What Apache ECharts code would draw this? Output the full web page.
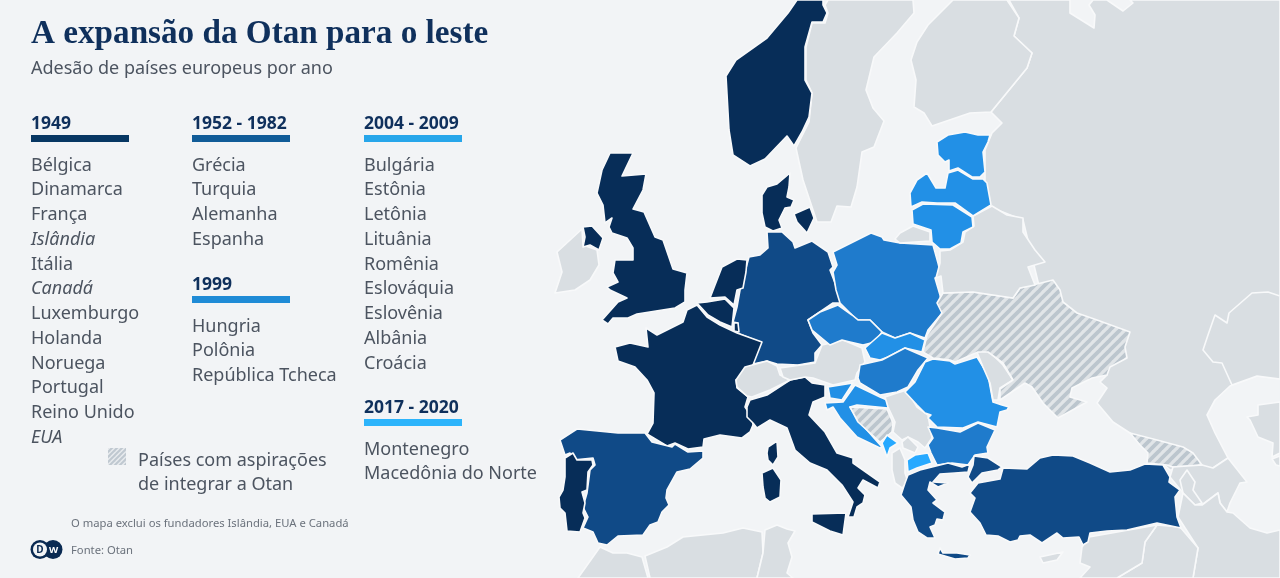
<!DOCTYPE html>
<html lang="pt">
<head>
<meta charset="UTF-8">
<title>A expansão da Otan para o leste</title>
<script src="https://cdn.jsdelivr.net/npm/echarts@6/dist/echarts.min.js"></script>
<style>
  html, body { margin: 0; padding: 0; background: #f2f4f6; }
  #main { width: 1280px; height: 578px; }
</style>
</head>
<body>
<div id="main"></div>
<script>
// listas da legenda
var list1949 = ['Bélgica', 'Dinamarca', 'França', 'Islândia', 'Itália', 'Canadá', 'Luxemburgo', 'Holanda', 'Noruega', 'Portugal', 'Reino Unido', 'EUA'];
var list1952 = ['Grécia', 'Turquia', 'Alemanha', 'Espanha'];
var list1999 = ['Hungria', 'Polônia', 'República Tcheca'];
var list2004 = ['Bulgária', 'Estônia', 'Letônia', 'Lituânia', 'Romênia', 'Eslováquia', 'Eslovênia', 'Albânia', 'Croácia'];
var list2017 = ['Montenegro', 'Macedônia do Norte'];
var italicNames = ['Islândia', 'Canadá', 'EUA'];  // fundadores fora do mapa
var aspirantes = ['Ucrânia', 'Geórgia', 'Bósnia'];

var colors = { c1949: '#072d58', c1952: '#104a87', c1999: '#1f7bcc', c2004: '#2290e6', c2017: '#27a9ff', outros: '#d9dee2' };
var barColors = { c1949: '#073763', c1952: '#115c98', c1999: '#1f8bd6', c2004: '#27a6ea', c2017: '#2db4fb' };
// no mapa original a Bulgária e a Albânia nao seguem a cor da lista
var mapOverrides = { 'Bulgária': colors.c1999, 'Albânia': colors.outros };

// contornos do mapa, em pixels da imagem
var outlines = {
  'Rússia': [[[1009,0],[1070,0],[1070,13],[1094,28],[1095,15],[1089,5],[1093,0],[1107,0],[1123,11],[1133,3],[1130,0],[1280,0],[1280,379],[1257,376],[1230,386],[1215,400],[1207,415],[1215,433],[1228,458],[1213,468],[1170,470],[1130,433],[1113,422],[1097,403],[1107,388],[1100,382],[1107,375],[1100,330],[1040,290],[1023,220],[985,205],[985,150],[992,133],[1002,123],[991,112],[1027,68],[1032,53],[1014,36],[1019,18]]],
  'Cazaquistão': [[[1252,293],[1268,292],[1280,296],[1280,379],[1257,376],[1232,385],[1222,363],[1213,362],[1203,350],[1208,335],[1215,315],[1227,323],[1229,313]]],
  'Turcomenistão': [
    [[1247,417],[1258,415],[1258,405],[1280,402],[1280,453],[1272,457],[1273,443],[1258,437],[1250,420]],
    [[1272,459],[1280,456],[1280,466],[1276,465]]
  ],
  'Suécia': [[[828,0],[913,0],[914,13],[897,33],[874,57],[866,90],[873,108],[884,121],[874,147],[862,152],[857,187],[851,207],[837,206],[831,222],[817,222],[803,180],[796,148],[809,122],[812,93],[806,80],[806,47],[812,23],[825,23],[828,13],[825,5]]],
  'Finlândia': [[[953,0],[1007,0],[1019,18],[1014,36],[1032,53],[1027,68],[991,112],[970,113],[932,126],[924,113],[914,107],[916,80],[911,60],[917,42],[928,25]]],
  'Noruega': [[[797,0],[823,0],[823,5],[827,13],[823,22],[812,22],[805,47],[805,80],[812,93],[809,117],[802,132],[794,146],[787,136],[765,159],[750,166],[733,155],[729,130],[726,76],[736,60],[767,38],[788,13]]],
  'Irlanda': [[[582,229],[583,245],[597,250],[599,265],[590,280],[575,290],[555,293],[562,272],[557,252]]],
  'Reino Unido': [
    [[610,153],[633,153],[622,176],[646,174],[643,190],[633,209],[644,212],[655,237],[663,240],[673,269],[687,273],[685,290],[685,302],[675,308],[637,314],[628,318],[613,318],[608,324],[602,320],[618,302],[627,298],[610,290],[607,287],[618,282],[613,273],[615,260],[633,260],[633,248],[627,238],[612,233],[609,227],[612,218],[605,223],[603,205],[597,193],[602,170]],
    [[583,227],[592,226],[603,238],[599,250],[590,245],[583,247],[585,237]]
  ],
  'Dinamarca': [
    [[767,187],[777,184],[790,173],[789,187],[787,197],[794,200],[791,207],[785,208],[779,220],[782,228],[773,231],[765,227],[762,213],[762,195]],
    [[794,214],[810,207],[814,218],[807,233],[797,222]]
  ],
  'Alemanha': [[[767,232],[782,232],[793,242],[795,248],[812,241],[828,252],[833,267],[830,270],[835,283],[837,290],[842,303],[833,303],[808,320],[813,333],[822,345],[815,353],[815,362],[798,365],[777,364],[767,361],[753,364],[760,342],[742,335],[737,333],[738,323],[733,322],[737,307],[740,290],[749,257],[760,255],[768,248]]],
  'Holanda': [[[722,267],[737,259],[747,260],[746,272],[743,288],[737,290],[734,305],[725,297],[710,298],[715,285]]],
  'Bélgica': [[[697,303],[707,302],[725,299],[734,308],[732,327],[720,322],[708,315]]],
  'Luxemburgo': [[[734,323],[738,323],[739,332],[734,331]]],
  'França': [[[687,310],[697,305],[707,317],[720,325],[737,333],[762,342],[753,365],[745,377],[736,380],[737,388],[748,397],[745,407],[752,417],[753,425],[750,432],[742,438],[720,435],[704,439],[703,447],[688,449],[675,443],[667,446],[647,434],[653,423],[654,393],[647,380],[635,367],[618,361],[615,347],[630,343],[648,347],[646,328],[657,335],[683,322]]],
  'Espanha': [[[560,440],[577,429],[618,433],[645,433],[652,442],[672,447],[675,444],[688,452],[703,451],[703,458],[690,469],[677,472],[667,490],[666,498],[669,505],[662,512],[658,522],[650,525],[643,535],[618,536],[607,545],[598,543],[593,532],[583,528],[588,517],[583,507],[587,493],[590,470],[595,465],[593,458],[573,460],[570,453],[565,455]]],
  'Portugal': [[[565,458],[573,453],[577,460],[592,460],[593,465],[588,472],[587,490],[582,492],[585,503],[583,513],[585,518],[580,532],[567,531],[565,513],[560,508],[559,497],[563,490],[565,477]]],
  'Itália': [
    [[750,400],[767,395],[790,380],[805,377],[812,383],[825,385],[825,397],[813,402],[809,415],[825,432],[837,453],[853,458],[853,463],[880,482],[878,488],[863,480],[858,488],[865,495],[863,503],[857,507],[854,517],[848,517],[853,502],[842,485],[827,470],[810,463],[795,450],[787,428],[770,420],[757,428],[753,423],[747,417],[747,407]],
    [[762,473],[773,468],[781,480],[780,497],[770,502],[765,498],[763,487]],
    [[768,447],[777,441],[778,457],[773,465],[768,460],[767,453]],
    [[812,514],[846,513],[843,535],[830,531],[812,522]]
  ],
  'Suíça': [[[736,380],[745,367],[767,361],[777,366],[780,375],[790,380],[770,390],[752,397],[747,396],[737,387]]],
  'Áustria': [[[780,368],[815,363],[822,345],[843,340],[862,348],[865,362],[857,373],[855,380],[833,385],[813,378],[805,377],[790,380],[783,377]]],
  'Polônia': [[[833,252],[871,233],[882,237],[884,240],[900,243],[933,245],[938,263],[941,275],[935,278],[940,295],[943,312],[928,330],[925,338],[910,333],[895,338],[882,332],[870,320],[858,320],[852,315],[840,303],[836,290],[833,272],[837,265]]],
  'Kaliningrado': [[[895,239],[900,233],[913,226],[930,232],[930,241],[900,243]]],
  'República Tcheca': [[[808,320],[820,312],[838,305],[852,315],[858,320],[870,320],[882,332],[875,342],[863,345],[850,342],[842,340],[830,345],[818,335],[812,330]]],
  'Eslováquia': [[[865,348],[882,333],[895,338],[910,333],[925,340],[922,352],[905,348],[888,357],[880,360],[870,358]]],
  'Hungria': [[[858,378],[860,365],[882,360],[905,348],[928,358],[918,370],[908,387],[897,392],[880,395],[860,383]]],
  'Eslovênia': [[[828,387],[853,383],[842,400],[830,398]]],
  'Croácia': [[[855,385],[880,397],[887,400],[888,408],[857,405],[850,407],[858,420],[882,447],[880,448],[857,437],[840,418],[833,407],[827,410],[825,403],[843,402]]],
  'Bósnia': [[[850,407],[887,409],[893,423],[892,432],[880,442],[858,422]]],
  'Sérvia': [[[885,397],[897,393],[907,390],[917,407],[928,415],[932,438],[925,448],[918,442],[908,437],[902,440],[893,432],[895,422],[888,407]]],
  'Kosovo': [[[902,442],[908,437],[918,447],[915,453],[903,448]]],
  'Montenegro': [[[882,443],[887,435],[898,443],[890,448],[887,457]]],
  'Albânia': [[[892,453],[900,448],[905,460],[905,473],[908,482],[902,488],[895,483],[892,470]]],
  'Macedônia do Norte': [[[907,460],[915,455],[928,453],[932,463],[917,468],[908,472]]],
  'Bulgária': [[[928,427],[937,428],[960,432],[978,423],[995,430],[987,447],[988,453],[975,455],[968,465],[952,463],[937,465],[931,453],[928,445],[933,438]]],
  'Romênia': [[[905,392],[915,382],[925,362],[933,359],[950,361],[955,364],[977,357],[988,375],[993,402],[1002,405],[1009,407],[1007,410],[1000,412],[997,427],[978,422],[963,428],[937,427],[928,418],[931,415],[925,413],[917,405]]],
  'Moldávia': [[[977,352],[988,350],[1003,365],[1013,380],[1000,388],[998,400],[993,400],[990,383],[983,367]]],
  'Ucrânia': [[[943,293],[973,292],[1013,298],[1020,288],[1033,285],[1053,280],[1060,290],[1063,302],[1077,313],[1097,320],[1130,332],[1125,347],[1127,358],[1110,367],[1107,375],[1092,378],[1072,388],[1070,397],[1087,402],[1058,418],[1043,403],[1032,387],[1025,383],[1000,400],[1000,389],[1013,380],[1003,363],[988,352],[978,352],[955,362],[950,360],[933,358],[923,352],[927,335],[942,313],[937,303]]],
  'Belarus': [[[940,251],[950,250],[963,242],[965,232],[974,226],[973,216],[992,206],[1007,215],[1023,218],[1023,232],[1035,250],[1045,262],[1028,267],[1035,285],[1020,288],[1013,298],[973,292],[943,293],[941,276],[936,278],[940,263]]],
  'Estônia': [[[937,142],[948,135],[965,132],[978,135],[990,135],[988,142],[983,152],[985,172],[980,177],[972,177],[958,168],[949,171],[949,160],[945,162],[938,155]]],
  'Letônia': [[[911,207],[910,193],[917,180],[927,173],[936,188],[945,188],[948,173],[958,170],[973,179],[983,179],[987,183],[991,205],[973,216],[955,203],[937,203],[922,202]]],
  'Lituânia': [[[912,210],[923,204],[953,205],[972,217],[973,227],[963,232],[961,243],[950,249],[940,249],[932,242],[931,230],[913,224]]],
  'Geórgia': [[[1130,433],[1157,440],[1183,447],[1193,453],[1202,465],[1173,467],[1167,465],[1147,463],[1148,453],[1140,445]]],
  'Azerbaijão': [[[1173,467],[1202,465],[1213,468],[1228,458],[1247,482],[1240,483],[1230,503],[1227,512],[1220,503],[1218,493],[1202,505],[1195,505],[1183,493],[1170,477]]],
  'Armênia': [[[1187,470],[1195,482],[1193,490],[1202,503],[1195,505],[1183,493],[1180,480]]],
  'Irã': [[[1178,517],[1183,493],[1195,505],[1202,505],[1218,493],[1220,503],[1227,512],[1233,513],[1250,528],[1267,533],[1280,530],[1280,578],[1193,578],[1198,548]]],
  'Iraque': [[[1157,525],[1180,527],[1198,548],[1193,578],[1117,578],[1142,563],[1145,542]]],
  'Síria': [[[1082,547],[1089,537],[1157,525],[1145,542],[1142,563],[1117,578],[1080,578],[1090,567],[1080,563]]],
  'Chipre': [[[1040,557],[1063,552],[1057,560],[1043,563]]],
  'Turquia': [
    [[1003,468],[1027,469],[1040,458],[1053,455],[1073,456],[1090,463],[1110,472],[1130,470],[1145,464],[1163,465],[1170,477],[1169,482],[1180,490],[1175,497],[1177,517],[1181,528],[1157,523],[1127,530],[1107,531],[1090,533],[1088,542],[1083,545],[1079,537],[1063,538],[1057,533],[1042,543],[1030,535],[1020,536],[1018,540],[1010,542],[998,536],[986,535],[980,523],[970,512],[975,498],[970,493],[978,483],[1000,479]],
    [[974,456],[988,458],[1002,467],[998,470],[982,473],[972,483],[968,477],[973,465]]
  ],
  'Grécia': [
    [[908,475],[920,470],[932,467],[948,463],[962,467],[970,464],[968,472],[955,473],[940,474],[933,482],[948,483],[938,487],[930,482],[928,490],[937,500],[933,503],[945,512],[943,520],[937,519],[935,525],[930,527],[935,538],[927,538],[918,532],[913,520],[911,507],[901,495],[905,483]],
    [[940,548],[943,553],[957,553],[970,555],[968,558],[955,559],[938,554]]
  ],
  'Marrocos': [[[578,578],[600,547],[613,553],[627,553],[642,557],[648,578]]],
  'Argélia': [[[645,556],[667,547],[683,537],[723,533],[743,528],[762,532],[763,553],[757,578],[650,578]]],
  'Tunísia': [[[765,530],[777,525],[787,529],[795,531],[788,543],[792,557],[787,573],[793,578],[757,578],[763,553]]]
};

function hatch(size, width, stripe, back) {
  var c = document.createElement('canvas');
  c.width = size; c.height = size;
  var g = c.getContext('2d');
  g.fillStyle = back; g.fillRect(0, 0, size, size);
  g.strokeStyle = stripe; g.lineWidth = width;
  [-size, 0, size].forEach(function (d) {
    g.beginPath(); g.moveTo(d - 1, size + 1); g.lineTo(d + size + 1, -1); g.stroke();
  });
  return c;
}
var hatchFill = { image: hatch(10, 3.8, '#bcc6ce', '#e1e5e8'), repeat: 'repeat' };
var swatchFill = { image: hatch(5, 2, '#bfc8d0', '#e8ebee'), repeat: 'repeat' };

var features = Object.keys(outlines).map(function (name) {
  return {
    type: 'Feature',
    properties: { name: name },
    geometry: {
      type: 'MultiPolygon',
      coordinates: outlines[name].map(function (ring) { return [ring.concat([ring[0]])]; })
    }
  };
});
echarts.registerMap('europa', { type: 'FeatureCollection', features: features });

function fillOf(name) {
  if (mapOverrides[name]) return mapOverrides[name];
  if (list1949.indexOf(name) >= 0) return colors.c1949;
  if (list1952.indexOf(name) >= 0) return colors.c1952;
  if (list1999.indexOf(name) >= 0) return colors.c1999;
  if (list2004.indexOf(name) >= 0) return colors.c2004;
  if (list2017.indexOf(name) >= 0) return colors.c2017;
  if (aspirantes.indexOf(name) >= 0) return hatchFill;
  return colors.outros;
}

var mapData = Object.keys(outlines).map(function (name) {
  return { name: name, value: 1, itemStyle: { areaColor: fillOf(name) } };
});

var bodyFont = '"Noto Sans", sans-serif';
var bodyColor = '#4c5460';
var headColor = '#0f305c';

function txt(x, y, text, size, color, extra) {
  var style = { x: x, y: y + 1.5, text: text, fontSize: size, fontFamily: bodyFont, fill: color, textVerticalAlign: 'middle' };
  for (var k in extra) style[k] = extra[k];
  return { type: 'text', silent: true, style: style };
}
function block(x, y, title, barColor, names) {
  var els = [
    txt(x, y, title, 17.5, headColor, { fontWeight: 'bold' }),
    { type: 'rect', silent: true, shape: { x: x, y: y + 12, width: 98, height: 7 }, style: { fill: barColor } }
  ];
  names.forEach(function (n, i) {
    els.push(txt(x, y + 41 + i * 24.75, n, 18, bodyColor, italicNames.indexOf(n) >= 0 ? { fontStyle: 'italic' } : {}));
  });
  return els;
}

var elements = [
  txt(31, 33, 'A expansão da Otan para o leste', 33.2, headColor, { fontFamily: '"Liberation Serif", serif', fontWeight: 'bold' }),
  txt(31, 67, 'Adesão de países europeus por ano', 18, bodyColor)
].concat(
  block(31, 123, '1949', barColors.c1949, list1949),
  block(192, 123, '1952 - 1982', barColors.c1952, list1952),
  block(192, 284, '1999', barColors.c1999, list1999),
  block(364, 123, '2004 - 2009', barColors.c2004, list2004),
  block(364, 407, '2017 - 2020', barColors.c2017, list2017),
  [
    { type: 'rect', silent: true, shape: { x: 108, y: 448, width: 18, height: 17 }, style: { fill: swatchFill } },
    txt(138, 459, 'Países com aspirações', 18, bodyColor),
    txt(138, 483, 'de integrar a Otan', 18, bodyColor),
    txt(71, 522.5, 'O mapa exclui os fundadores Islândia, EUA e Canadá', 11.25, '#6b727c'),
    txt(71, 549.5, 'Fonte: Otan', 11.25, '#6b727c'),
    // logo DW
    { type: 'circle', silent: true, shape: { cx: 53, cy: 549.5, r: 9.5 }, style: { fill: '#0a2a52' } },
    { type: 'circle', silent: true, shape: { cx: 40, cy: 549.5, r: 9.5 }, style: { fill: '#0a2a52' } },
    { type: 'circle', silent: true, shape: { cx: 40, cy: 549.5, r: 7 }, style: { fill: '#f2f4f6' } },
    txt(40, 548.5, 'D', 10, '#0a2a52', { fontWeight: 'bold', textAlign: 'center' }),
    txt(53.5, 548.5, 'W', 9.5, '#ffffff', { fontWeight: 'bold', textAlign: 'center' })
  ]
);

var chart = echarts.init(document.getElementById('main'), null, { renderer: 'canvas' });
chart.setOption({
  backgroundColor: '#f2f4f6',
  animation: false,
  tooltip: { show: false },
  graphic: elements,
  series: [{
    type: 'map',
    map: 'europa',
    projection: { project: function (p) { return p; }, unproject: function (p) { return p; } },
    boundingCoords: [[0, 0], [1280, 578]],
    left: 0, top: 0, width: 1280, height: 578,
    roam: false,
    silent: true,
    selectedMode: false,
    showLegendSymbol: false,
    label: { show: false },
    emphasis: { disabled: true },
    itemStyle: { areaColor: colors.outros, borderColor: '#f8f9fa', borderWidth: 1.6, borderJoin: 'round' },
    data: mapData
  }]
});
</script>
</body>
</html>
